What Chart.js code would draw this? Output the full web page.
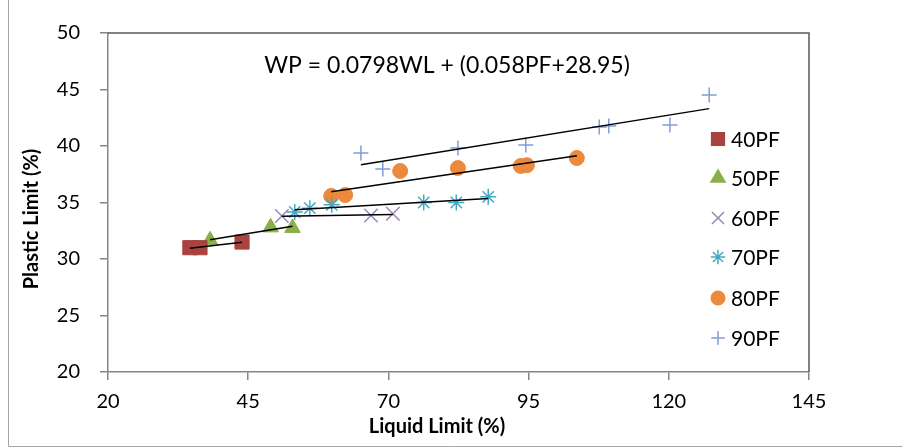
<!DOCTYPE html>
<html>
  <head>
    <title>Plastic limit vs liquid limit</title>
    <script src="https://cdn.jsdelivr.net/npm/chart.js"></script>
    <style>
      body {
        margin: 0;
        background: #ffffff;
      }
    </style>
  </head>
  <body>
    <canvas id="myChart" width="903" height="448"></canvas>

    <script>
      // values (liquid limit %, plastic limit %)
      const seriesNames = ["40PF", "50PF", "60PF", "70PF", "80PF", "90PF"];
      const pf40X = [34.6, 36.4, 43.9];
      const pf40Y = [31.0, 31.0, 31.5];
      const pf50X = [38.2, 49.0, 52.9];
      const pf50Y = [31.65, 32.8, 32.75];
      const pf60X = [51.0, 66.9, 70.8];
      const pf60Y = [33.8, 33.85, 34.0];
      const pf70X = [53.3, 56.0, 59.9, 76.3, 82.1, 87.8];
      const pf70Y = [34.16, 34.5, 34.8, 35.0, 35.0, 35.5];
      const pf80X = [59.8, 62.3, 72.1, 82.4, 93.6, 94.7, 103.6];
      const pf80Y = [35.58, 35.66, 37.79, 38.05, 38.23, 38.3, 38.94];
      const pf90X = [65.1, 69.0, 82.4, 94.5, 107.6, 109.3, 120.2, 127.2];
      const pf90Y = [39.38, 37.96, 39.82, 40.09, 41.68, 41.77, 41.86, 44.51];
      const xTicks = [20, 45, 70, 95, 120, 145];
      const yTicks = [20, 25, 30, 35, 40, 45, 50];
      const equationText = "WP = 0.0798WL + (0.058PF+28.95)";

      const allX = [pf40X, pf50X, pf60X, pf70X, pf80X, pf90X];
      const allY = [pf40Y, pf50Y, pf60Y, pf70Y, pf80Y, pf90Y];
      const colors = ["#a8433f", "#8aae4a", "#9a86b8", "#45a8c2", "#eb8a3d", "#7f9ed4"];
      const styles = ["rect", "triangle", "crossRot", "star", "circle", "cross"];
      const radii = [10, 9, 9.5, 8, 7.5, 7.5];
      const widths = [1, 1, 1.5, 1.5, 1, 1.5];

      function toPoints(xs, ys) {
        return xs.map((x, i) => ({ x: x, y: ys[i] }));
      }

      // least squares line, drawn from the smallest to the largest x
      function trendline(xs, ys) {
        const n = xs.length;
        const mx = xs.reduce((a, b) => a + b, 0) / n;
        const my = ys.reduce((a, b) => a + b, 0) / n;
        let sxy = 0;
        let sxx = 0;
        for (let i = 0; i < n; i++) {
          sxy += (xs[i] - mx) * (ys[i] - my);
          sxx += (xs[i] - mx) * (xs[i] - mx);
        }
        const slope = sxy / sxx;
        const x0 = Math.min(...xs);
        const x1 = Math.max(...xs);
        return [
          { x: x0, y: my + slope * (x0 - mx) },
          { x: x1, y: my + slope * (x1 - mx) },
        ];
      }

      const datasets = [];
      for (let i = 0; i < seriesNames.length; i++) {
        datasets.push({
          label: seriesNames[i],
          data: toPoints(allX[i], allY[i]),
          pointStyle: styles[i],
          pointRadius: radii[i],
          pointBorderWidth: widths[i],
          borderColor: colors[i],
          backgroundColor: colors[i],
          showLine: false,
          order: 1,
        });
      }
      for (let i = 0; i < seriesNames.length; i++) {
        datasets.push({
          label: "trend " + seriesNames[i],
          data: trendline(allX[i], allY[i]),
          showLine: true,
          pointRadius: 0,
          borderColor: "#000000",
          borderWidth: 1.5,
          order: 0,
        });
      }

      const decor = {
        id: "decor",
        afterDraw(chart) {
          const ctx = chart.ctx;
          const a = chart.chartArea;
          ctx.save();

          // outer chart frame
          ctx.strokeStyle = "#a6a6a6";
          ctx.lineWidth = 1;
          ctx.beginPath();
          ctx.moveTo(8.5, -1);
          ctx.lineTo(8.5, 446.5);
          ctx.lineTo(902.5, 446.5);
          ctx.stroke();

          // top and right edge of plot area
          ctx.strokeStyle = "#595959";
          ctx.lineWidth = 1.5;
          ctx.beginPath();
          ctx.moveTo(a.left, a.top);
          ctx.lineTo(a.right, a.top);
          ctx.lineTo(a.right, a.bottom);
          ctx.stroke();

          // equation
          ctx.fillStyle = "#000000";
          ctx.font = "23px Lato";
          ctx.textAlign = "center";
          ctx.textBaseline = "middle";
          ctx.fillText(equationText, 447, 66);

          // axis titles
          ctx.font = "bold 20px Lato";
          ctx.fillText("Liquid Limit (%)", 437, 427);
          ctx.save();
          ctx.translate(32, 219);
          ctx.rotate(-Math.PI / 2);
          ctx.fillText("Plastic Limit (%)", 0, 0);
          ctx.restore();

          // legend inside the plot
          const legendY = [139, 178, 218, 257, 298, 338];
          ctx.font = "21px Lato";
          ctx.textAlign = "left";
          for (let i = 0; i < seriesNames.length; i++) {
            ctx.fillStyle = colors[i];
            ctx.strokeStyle = colors[i];
            Chart.helpers.drawPoint(
              ctx,
              { pointStyle: styles[i], radius: radii[i] * 0.9, borderWidth: widths[i], rotation: 0 },
              718,
              legendY[i]
            );
            ctx.fillStyle = "#000000";
            ctx.fillText(seriesNames[i], 731, legendY[i] + 1);
          }
          ctx.restore();
        },
      };

      const ctx = document.getElementById("myChart").getContext("2d");
      new Chart(ctx, {
        type: "scatter",
        data: { datasets: datasets },
        plugins: [decor],
        options: {
          responsive: false,
          animation: false,
          devicePixelRatio: 1,
          layout: { padding: { top: 33, right: 94, left: 0, bottom: 0 } },
          plugins: {
            legend: { display: false },
            tooltip: { enabled: false },
          },
          scales: {
            x: {
              type: "linear",
              min: xTicks[0],
              max: xTicks[xTicks.length - 1],
              afterBuildTicks: (s) => {
                s.ticks = xTicks.map((v) => ({ value: v }));
              },
              afterFit: (s) => {
                s.height = 76;
              },
              ticks: { color: "#000000", font: { family: "Lato", size: 20 }, padding: 10 },
              grid: { drawOnChartArea: false, tickLength: 8, color: "#868686", lineWidth: 1.5 },
              border: { color: "#868686", width: 1.5 },
            },
            y: {
              min: yTicks[0],
              max: yTicks[yTicks.length - 1],
              afterBuildTicks: (s) => {
                s.ticks = yTicks.map((v) => ({ value: v }));
              },
              afterFit: (s) => {
                s.width = 108;
              },
              ticks: { color: "#000000", font: { family: "Lato", size: 20 }, padding: 20 },
              grid: { drawOnChartArea: false, tickLength: 8, color: "#868686", lineWidth: 1.5 },
              border: { color: "#868686", width: 1.5 },
            },
          },
        },
      });
    </script>
  </body>
</html>
